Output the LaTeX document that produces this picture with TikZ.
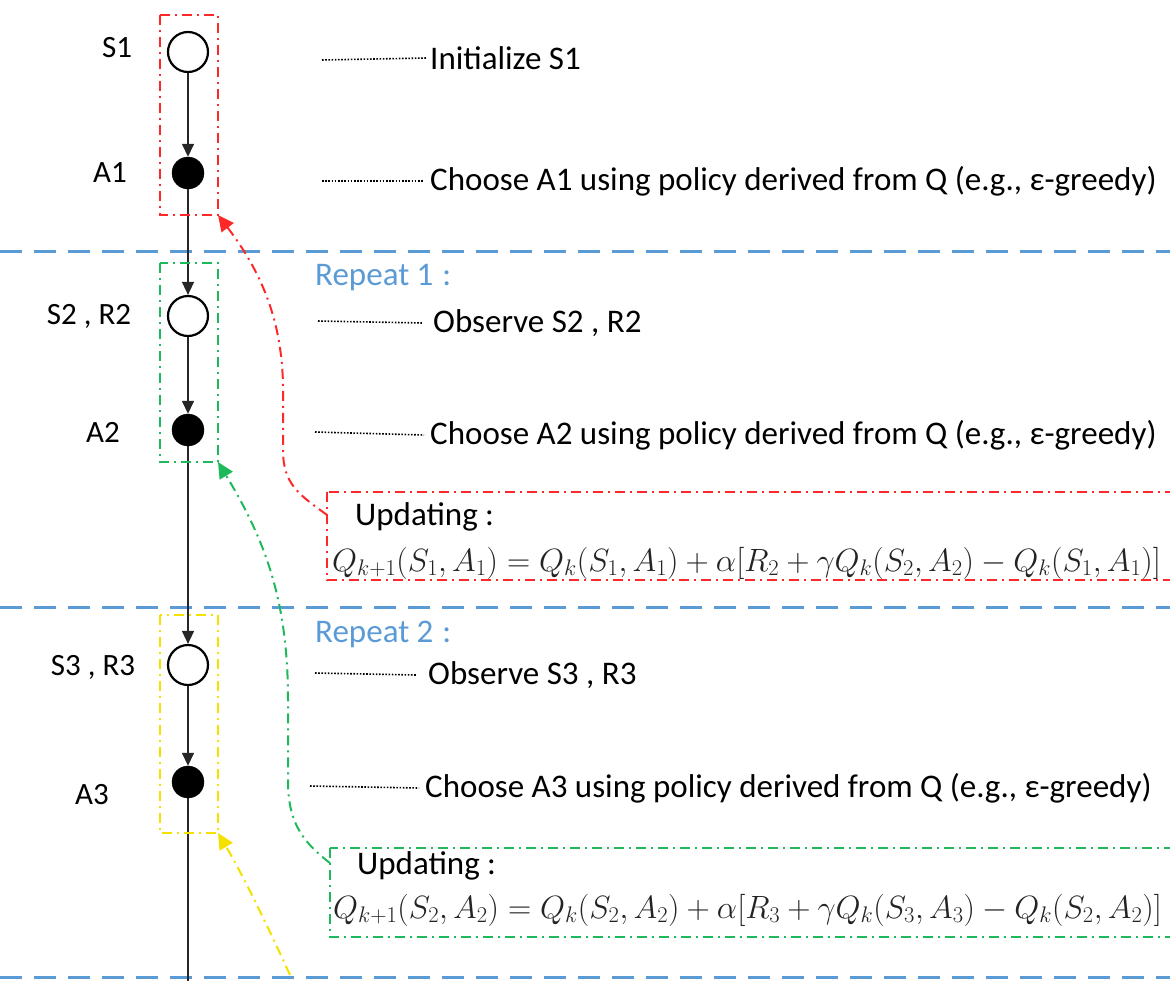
\RequirePackage{fix-cm}
\documentclass[tikz,border=0pt]{standalone}
\usepackage{fontspec}
\setmainfont{Carlito}
\usetikzlibrary{arrows.meta}
\definecolor{rblue}{RGB}{91,155,213}
\definecolor{rred}{RGB}{255,40,40}
\definecolor{rgreen}{RGB}{30,185,90}
\definecolor{ryellow}{RGB}{245,225,0}
\definecolor{mgray}{RGB}{35,35,35}
\tikzset{
  opencirc/.style={circle,draw=black,fill=white,line width=2.2pt,minimum size=40pt,inner sep=0pt},
  fullcirc/.style={circle,draw=black,fill=black,minimum size=32pt,inner sep=0pt},
  flow/.style={line width=1.5pt,draw=black!85,-{Triangle[length=13pt,width=12pt]}},
  lbl/.style={font=\fontsize{31}{36}\selectfont,inner sep=0pt},
  txt/.style={font=\fontsize{33}{38}\selectfont,anchor=west,inner sep=0pt},
  leader/.style={line width=1.6pt,dash pattern=on 1.6pt off 1.6pt},
  sep/.style={draw=rblue,line width=3pt,dash pattern=on 22pt off 12pt},
  dd/.style={line width=2pt,dash pattern=on 10pt off 5pt on 2pt off 5pt},
  fb/.style={dd,-{Triangle[length=16pt,width=15pt]}},
  rep/.style={font=\fontsize{33}{38}\selectfont,text=rblue,anchor=west,inner sep=0pt},
  eq/.style={font=\fontsize{32.2}{37}\selectfont,text=mgray,anchor=west,inner sep=0pt},
}
\begin{document}
\begin{tikzpicture}[x=1pt,y=-1pt]
\useasboundingbox (0,0) rectangle (1170,980);
\clip (0,0) rectangle (1170,980);
% separators
\draw[sep] (0,251) -- (1170,251);
\draw[sep] (0,607) -- (1170,607);
\draw[sep] (0,977) -- (1170,977);
% state/action nodes
\node[opencirc] (s1) at (188,52) {};
\node[fullcirc] (a1) at (188,173) {};
\node[opencirc] (s2) at (188,316) {};
\node[fullcirc] (a2) at (188,430) {};
\node[opencirc] (s3) at (188,665) {};
\node[fullcirc] (a3) at (188,782) {};
\coordinate (bot) at (188,985);
\draw[flow] (s1) -- (a1);
\draw[flow] (a1) -- (s2);
\draw[flow] (s2) -- (a2);
\draw[flow] (a2) -- (s3);
\draw[flow] (s3) -- (a3);
\draw[line width=1.5pt,draw=black!85] (a3) -- (bot);
% left labels
\node[lbl] (ls1) at (117,48) {S1};
\node[lbl] (la1) at (110,173) {A1};
\node[lbl] (ls2) at (89,316) {S2 , R2};
\node[lbl] (la2) at (103,432) {A2};
\node[lbl] (ls3) at (93,667) {S3 , R3};
\node[lbl] (la3) at (92,795) {A3};
% grouping boxes
\draw[dd,rred] (160,15) rectangle (218,215);
\draw[dd,rgreen] (160,263) rectangle (218,462);
\draw[dd,ryellow] (160,615) rectangle (218,833);
\coordinate (rc) at (218,215);
\coordinate (gc) at (218,462);
\coordinate (yc) at (218,833);
% right texts
\node[txt] (t1) at (430,58) {Initialize S1};
\node[txt] (t2) at (430,181) {Choose A1 using policy derived from Q (e.g., ε-greedy)};
\node[rep] (r1) at (315,278) {Repeat 1\hspace{9pt}:};
\node[txt] (t3) at (433,323) {Observe S2 , R2};
\node[txt] (t4) at (430,435) {Choose A2 using policy derived from Q (e.g., ε-greedy)};
\node[rep] (r2) at (315,634) {Repeat 2\hspace{9pt}:};
\node[txt] (t5) at (428,675) {Observe S3 , R3};
\node[txt] (t6) at (425,788) {Choose A3 using policy derived from Q (e.g., ε-greedy)};
\draw[leader] (322,60) -- ([xshift=-4pt]t1.west);
\draw[leader] (322,181) -- ([xshift=-6pt]t2.west);
\draw[leader] (318,321) -- ([xshift=-10pt]t3.west);
\draw[leader] (315,432) -- ([xshift=-6pt]t4.west);
\draw[leader] (315,673) -- ([xshift=-12pt]t5.west);
\draw[leader] (310,786) -- ([xshift=-6pt]t6.west);
% update boxes
\draw[dd,rred] (327,492) rectangle (1180,580);
\node[txt] (u1) at (355,517) {Updating :};
\node[eq] (e1) at (332,563) {$Q_{k+1}(S_1,A_1)=Q_k(S_1,A_1)+\alpha[R_2+\gamma Q_k(S_2,A_2)-Q_k(S_1,A_1)]$};
\draw[dd,rgreen] (330,848) rectangle (1180,937);
\node[txt] (u2) at (357,866) {Updating :};
\node[eq] (e2) at (333,910) {$Q_{k+1}(S_2,A_2)=Q_k(S_2,A_2)+\alpha[R_3+\gamma Q_k(S_3,A_3)-Q_k(S_2,A_2)]$};
\coordinate (rs) at (327,515);
\coordinate (gs) at (330,863);
\coordinate (ys) at (290,975);
% feedback arrows
\draw[fb,rred] (rs) .. controls (300,495) and (283,485) .. (283,450)
  -- (283,390) .. controls (283,320) and (260,270) .. (rc);
\draw[fb,rgreen] (gs) .. controls (300,840) and (288,820) .. (288,780)
  -- (288,700) .. controls (288,600) and (265,540) .. (gc);
\draw[fb,ryellow] (ys) .. controls (265,920) and (240,870) .. (yc);
\end{tikzpicture}
\end{document}
